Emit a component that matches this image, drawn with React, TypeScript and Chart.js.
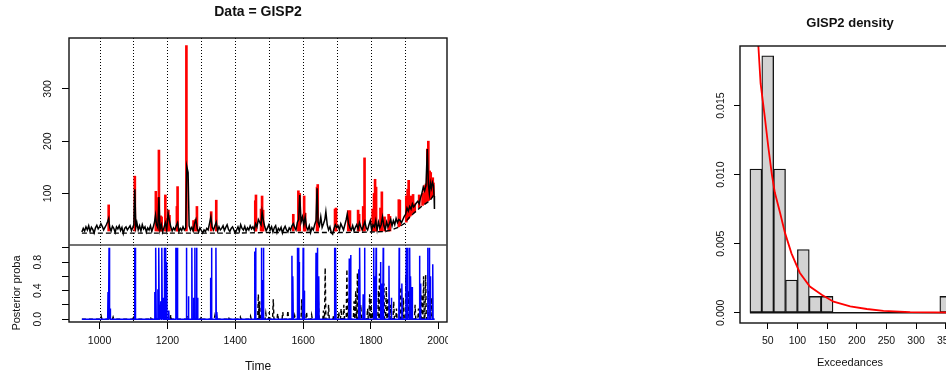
import React, { useEffect, useRef } from 'react';
import { Chart, registerables } from 'chart.js';

Chart.register(...registerables);

const FONT = '"Liberation Sans", Arial, Helvetica, sans-serif';

// ---------- Left panel: GISP2 series ----------
const gisp2Series: [number, number][] = [
  [948, 26], [952, 33], [956, 28], [960, 36], [964, 30], [968, 38], [972, 27], [976, 35], [980, 31], [984, 24],
  [988, 34], [992, 39], [996, 32], [1000, 36], [1004, 42], [1008, 37], [1012, 30], [1016, 35], [1020, 40], [1024, 46],
  [1027, 52], [1030, 35], [1034, 28], [1038, 37], [1042, 33], [1046, 25], [1050, 36], [1054, 32], [1058, 38], [1062, 29],
  [1066, 35], [1070, 23], [1074, 33], [1078, 36], [1082, 30], [1086, 34], [1090, 38], [1094, 29], [1098, 35], [1101, 40],
  [1104, 108], [1107, 35], [1110, 44], [1114, 30], [1118, 38], [1122, 28], [1126, 40], [1130, 32], [1134, 36], [1138, 26],
  [1142, 34], [1146, 30], [1150, 38], [1154, 27], [1158, 35], [1162, 45], [1165, 58], [1168, 40], [1172, 34], [1175, 93],
  [1178, 30], [1182, 40], [1186, 26], [1190, 35], [1194, 44], [1198, 30], [1202, 62], [1206, 48], [1210, 36], [1214, 28],
  [1218, 34], [1222, 30], [1226, 38], [1230, 44], [1234, 27], [1238, 33], [1242, 29], [1246, 36], [1250, 30], [1254, 34],
  [1257, 152], [1261, 140], [1264, 38], [1268, 30], [1272, 35], [1276, 28], [1280, 42], [1284, 50], [1288, 32], [1292, 26],
  [1296, 34], [1300, 29], [1304, 24], [1308, 30], [1312, 27], [1316, 33], [1320, 30], [1324, 42], [1328, 55], [1332, 35],
  [1336, 30], [1340, 38], [1344, 45], [1348, 28], [1352, 36], [1356, 30], [1360, 33], [1364, 38], [1368, 29], [1372, 35],
  [1376, 40], [1380, 31], [1384, 27], [1388, 33], [1392, 36], [1396, 30], [1400, 24], [1404, 30], [1408, 36], [1412, 28],
  [1416, 40], [1420, 33], [1424, 30], [1428, 37], [1432, 28], [1436, 34], [1440, 30], [1444, 38], [1448, 32], [1452, 36],
  [1456, 30], [1460, 42], [1464, 36], [1468, 50], [1472, 45], [1476, 40], [1479, 65], [1483, 48], [1487, 36], [1491, 28],
  [1495, 34], [1499, 40], [1503, 30], [1507, 36], [1511, 26], [1515, 34], [1519, 38], [1523, 25], [1527, 33], [1531, 29],
  [1535, 35], [1539, 24], [1543, 32], [1547, 37], [1551, 30], [1555, 26], [1559, 34], [1563, 30], [1567, 38], [1571, 42],
  [1575, 35], [1579, 30], [1583, 45], [1587, 50], [1590, 97], [1594, 45], [1598, 55], [1602, 40], [1606, 55], [1610, 35],
  [1614, 30], [1618, 38], [1622, 25], [1626, 34], [1630, 30], [1634, 40], [1638, 48], [1641, 110], [1644, 45], [1648, 38],
  [1652, 55], [1656, 35], [1660, 42], [1664, 50], [1667, 65], [1671, 40], [1675, 30], [1679, 36], [1683, 25], [1687, 22],
  [1691, 33], [1695, 40], [1699, 35], [1703, 38], [1707, 30], [1711, 42], [1715, 36], [1719, 30], [1723, 40], [1727, 50],
  [1730, 60], [1734, 42], [1738, 34], [1742, 30], [1746, 38], [1750, 28], [1754, 35], [1758, 40], [1762, 32], [1766, 44],
  [1770, 36], [1774, 30], [1778, 38], [1782, 46], [1786, 34], [1790, 30], [1794, 40], [1798, 48], [1802, 30], [1806, 40],
  [1810, 36], [1814, 48], [1818, 30], [1822, 45], [1826, 34], [1830, 40], [1834, 55], [1838, 38], [1842, 30], [1846, 45],
  [1850, 36], [1854, 42], [1858, 50], [1862, 38], [1866, 48], [1870, 40], [1874, 52], [1878, 44], [1882, 50], [1886, 48],
  [1890, 44], [1894, 50], [1898, 56], [1902, 60], [1906, 72], [1910, 66], [1914, 75], [1918, 70], [1922, 80], [1926, 74],
  [1930, 78], [1934, 82], [1938, 85], [1942, 80], [1946, 92], [1950, 100], [1954, 112], [1958, 105], [1962, 115], [1966, 185],
  [1969, 118], [1972, 100], [1975, 120], [1978, 110], [1981, 121], [1984, 115], [1986, 95], [1987, 70],
];

// exceedances drawn in red: year, lower end, peak
const spikeYears = [
  1027, 1104, 1166, 1172, 1175, 1180, 1183, 1194, 1197, 1203, 1206, 1228, 1230, 1256, 1277, 1283, 1287, 1329, 1344, 1459,
  1461, 1476, 1479, 1482, 1571, 1586, 1590, 1603, 1606, 1641, 1643, 1694, 1697, 1733, 1738, 1762, 1765, 1777, 1781, 1805,
  1809, 1812, 1815, 1828, 1832, 1840, 1852, 1856, 1882, 1885, 1904, 1908, 1911, 1915, 1918, 1924, 1929, 1942, 1952, 1958,
  1962, 1966, 1969, 1973, 1976, 1979, 1982, 1984,
];
const spikePeak = [
  78, 133, 104, 92, 183, 57, 55, 97, 52, 68, 58, 75, 113, 383, 48, 50, 75, 65, 87, 86,
  97, 70, 95, 68, 60, 105, 100, 95, 62, 112, 117, 70, 72, 67, 67, 68, 60, 75, 168, 70,
  100, 127, 112, 72, 103, 55, 60, 56, 88, 87, 95, 108, 125, 88, 95, 98, 80, 97, 100, 115,
  118, 185, 200, 143, 140, 118, 130, 120,
];
const spikeLow = [
  28, 28, 28, 28, 28, 28, 28, 28, 28, 28, 28, 28, 28, 28, 28, 28, 28, 28, 28, 28,
  28, 28, 28, 28, 28, 28, 28, 28, 28, 28, 28, 28, 28, 28, 28, 28, 28, 28, 28, 28,
  28, 28, 28, 28, 28, 28, 28, 28, 36, 38, 45, 50, 52, 56, 58, 62, 64, 72, 77, 80,
  82, 85, 86, 88, 90, 92, 94, 96,
];

const thresholdYears = [948, 1000, 1100, 1200, 1300, 1400, 1500, 1600, 1700, 1800, 1840, 1860, 1880, 1900, 1910, 1926, 1945, 1960, 1975, 1987];
const thresholdValues = [24, 24, 24, 24, 24, 24, 25, 25, 25, 26, 27, 30, 35, 43, 52, 62, 73, 80, 87, 99];

// posterior probabilities (bottom panel)
const seriesStart = 948;
const seriesEnd = 1987;
const blueYears = [
  1025, 1028, 1031, 1103, 1105, 1163, 1166, 1172, 1175, 1179, 1181, 1184, 1188, 1191, 1195, 1198, 1204, 1225, 1229, 1256,
  1262, 1272, 1277, 1281, 1286, 1289, 1327, 1330, 1343, 1346, 1457, 1460, 1477, 1480, 1483, 1567, 1570, 1583, 1587, 1589,
  1600, 1603, 1638, 1642, 1646, 1693, 1696, 1736, 1740, 1764, 1767, 1777, 1781, 1808, 1812, 1815, 1828, 1833, 1836, 1853,
  1860, 1883, 1891, 1904, 1908, 1914, 1917, 1921, 1943, 1946, 1967, 1972, 1975, 1982,
];
const blueProb = [
  0.38, 1, 0.15, 1, 1, 0.38, 1, 0.42, 1, 0.2, 0.25, 1, 0.3, 1, 1, 0.8, 0.12, 1, 1, 1,
  0.32, 1, 0.3, 1, 1, 0.3, 0.58, 1, 1, 0.1, 0.95, 1, 1, 0.55, 1, 0.89, 0.6, 1, 1, 0.8,
  1, 0.4, 0.93, 1, 0.6, 1, 1, 0.85, 0.9, 0.7, 1, 0.35, 1, 1, 0.6, 1, 0.8, 0.5, 1, 0.75,
  0.3, 1, 0.5, 1, 1, 1, 0.6, 0.45, 0.89, 0.5, 1, 1, 0.6, 0.77,
];
const dashYears = [
  1005, 1040, 1100, 1150, 1210, 1260, 1300, 1340, 1380, 1415, 1445, 1468, 1472, 1490, 1500, 1512, 1525, 1540, 1555, 1575,
  1596, 1610, 1625, 1645, 1660, 1665, 1675, 1690, 1705, 1712, 1720, 1729, 1735, 1750, 1755, 1760, 1770, 1790, 1796, 1800,
  1805, 1822, 1825, 1838, 1845, 1850, 1858, 1867, 1875, 1888, 1895, 1903, 1910, 1920, 1930, 1940, 1950, 1955, 1961, 1970,
  1978,
];
const dashProb = [
  0.04, 0.03, 0.05, 0.03, 0.06, 0.05, 0.04, 0.05, 0.03, 0.03, 0.04, 0.35, 0.25, 0.08, 0.1, 0.28, 0.08, 0.1, 0.12, 0.05,
  0.28, 0.1, 0.06, 0.25, 0.12, 0.72, 0.2, 0.06, 0.1, 0.15, 0.2, 0.7, 0.3, 0.25, 0.4, 0.65, 0.2, 0.15, 0.35, 0.3,
  0.1, 0.4, 0.64, 0.5, 0.45, 0.3, 0.2, 0.25, 0.15, 0.45, 0.3, 0.62, 0.4, 0.3, 0.2, 0.15, 0.35, 0.6, 0.62, 0.4,
  0.3,
];

const guideYears = [1000, 1100, 1200, 1300, 1400, 1500, 1600, 1700, 1800, 1900];
const timeTicks = [1000, 1200, 1400, 1600, 1800, 2000];
const valueTicks = [100, 200, 300];
const probTicks = [0, 0.2, 0.4, 0.6, 0.8, 1.0];
const probLabelled = [0, 0.4, 0.8];

// ---------- Right panel: density ----------
const binMids = [30, 50, 70, 90, 110, 130, 150, 170, 190, 210, 230, 250, 270, 290, 310, 330, 350];
const binDensity = [0.0104, 0.0186, 0.0104, 0.00236, 0.00457, 0.00118, 0.00118, 0, 0, 0, 0, 0, 0, 0, 0, 0, 0.00118];
const binRange = [20, 360];
const densX = [34, 38, 45, 51, 57, 62, 71, 79, 90, 104, 121, 141, 161, 189, 217, 245, 290, 330, 374];
const densY = [0.0195, 0.0166, 0.0142, 0.012, 0.01, 0.0087, 0.0072, 0.0058, 0.0043, 0.0029, 0.0019, 0.0013, 0.0008, 0.00046, 0.00027, 0.00014, 0.00005, 0.00002, 0.00001];
const excTicks = [50, 100, 150, 200, 250, 300, 350];
const densTicks = [0, 0.005, 0.01, 0.015];

function spikePoints(years: number[], probs: number[], half: number) {
  const pts: { x: number; y: number }[] = [{ x: seriesStart, y: 0 }];
  years.forEach((yr, i) => {
    pts.push({ x: yr - half, y: 0 }, { x: yr, y: probs[i] }, { x: yr + half, y: 0 });
  });
  pts.push({ x: seriesEnd, y: 0 });
  return pts;
}

const framePlugin = {
  id: 'frame',
  beforeDatasetsDraw(chart: any, _args: any, opts: any) {
    const { ctx, chartArea: a, scales } = chart;
    if (opts && opts.guides) {
      ctx.save();
      ctx.strokeStyle = '#000';
      ctx.lineWidth = 1;
      ctx.setLineDash([1, 2]);
      for (const g of opts.guides) {
        const x = Math.round(scales.x.getPixelForValue(g)) + 0.5;
        ctx.beginPath();
        ctx.moveTo(x, a.top);
        ctx.lineTo(x, a.bottom);
        ctx.stroke();
      }
      ctx.restore();
    }
  },
  afterDatasetsDraw(chart: any, _args: any, opts: any) {
    const { ctx, chartArea: a, scales } = chart;
    ctx.save();
    ctx.strokeStyle = '#111';
    ctx.lineWidth = 1.4;
    ctx.setLineDash([]);
    ctx.strokeRect(a.left, a.top, a.right - a.left, a.bottom - a.top);
    if (opts && opts.separator) {
      const y = scales[opts.separator].top;
      ctx.strokeStyle = '#444';
      ctx.beginPath();
      ctx.moveTo(a.left, y);
      ctx.lineTo(a.right, y);
      ctx.stroke();
    }
    if (opts && opts.sideLabel) {
      const s = opts.sideLabel;
      ctx.translate(s.x, s.y);
      ctx.rotate(-Math.PI / 2);
      ctx.fillStyle = '#111';
      ctx.font = `${s.size}px ${FONT}`;
      ctx.textAlign = 'center';
      ctx.textBaseline = 'middle';
      ctx.fillText(s.text, 0, 0);
    }
    ctx.restore();
  },
};

const tickFont = { family: FONT, size: 10.5 };

export default function App() {
  const leftRef = useRef<HTMLCanvasElement>(null);
  const rightRef = useRef<HTMLCanvasElement>(null);

  useEffect(() => {
    const left = new Chart(leftRef.current as HTMLCanvasElement, {
      type: 'line',
      data: {
        datasets: [
          {
            type: 'line',
            yAxisID: 'y',
            data: thresholdYears.map((x, i) => ({ x, y: thresholdValues[i] })),
            borderColor: '#000',
            borderWidth: 1.4,
            borderDash: [5, 3],
            pointRadius: 0,
            order: 0,
          },
          {
            type: 'line',
            yAxisID: 'y',
            data: gisp2Series.map(([x, y]) => ({ x, y })),
            borderColor: '#000',
            borderWidth: 1.5,
            pointRadius: 0,
            order: 1,
          },
          {
            type: 'bar',
            yAxisID: 'y',
            data: spikeYears.map((x, i) => ({ x, y: [spikeLow[i], spikePeak[i]] })) as any,
            backgroundColor: '#ff0000',
            borderWidth: 0,
            barThickness: 2,
            grouped: false,
            order: 2,
          } as any,
          {
            type: 'line',
            yAxisID: 'y2',
            data: spikePoints(blueYears, blueProb, 1),
            borderColor: '#0000ff',
            borderWidth: 1.5,
            pointRadius: 0,
            order: 3,
          },
          {
            type: 'line',
            yAxisID: 'y2',
            data: spikePoints(dashYears, dashProb, 2),
            borderColor: '#000',
            borderWidth: 1.4,
            borderDash: [4, 3],
            pointRadius: 0,
            order: 4,
          },
        ],
      },
      options: {
        animation: false,
        responsive: false,
        maintainAspectRatio: false,
        events: [],
        layout: { padding: { left: 0, right: 69, top: 0, bottom: 0 } },
        plugins: {
          legend: { display: false },
          tooltip: { enabled: false },
          title: {
            display: true,
            fullSize: false,
            text: 'Data = GISP2',
            color: '#111',
            font: { family: FONT, size: 14, weight: 'bold' },
            padding: { top: 4, bottom: 17.2 },
          },
          frame: {
            guides: guideYears,
            separator: 'y2',
            sideLabel: { text: 'Posterior proba', x: 17, y: 293, size: 11 },
          },
        } as any,
        scales: {
          x: {
            type: 'linear',
            min: 910,
            max: 2024,
            offset: false,
            grid: { offset: false, display: true, drawOnChartArea: false, drawTicks: true, tickLength: 7, color: '#000' },
            border: { display: false },
            ticks: { font: tickFont, color: '#111', padding: 6, maxRotation: 0, autoSkip: false, callback: (v: any) => String(v) },
            afterBuildTicks: (s: any) => { s.ticks = timeTicks.map((v) => ({ value: v })); },
            afterFit: (s: any) => { s.height = 52; },
            title: { display: true, text: 'Time', color: '#111', font: { family: FONT, size: 12 }, padding: { top: 0, bottom: 0 } },
          },
          y2: {
            type: 'linear',
            position: 'left',
            stack: 'left',
            stackWeight: 77,
            min: -0.04,
            max: 1.04,
            grid: { display: true, drawOnChartArea: false, drawTicks: true, tickLength: 7, color: '#000' },
            border: { display: false },
            ticks: {
              font: tickFont, color: '#111', padding: 16.4, minRotation: 90, maxRotation: 90, crossAlign: 'center', autoSkip: false,
              callback: (v: any) => (probLabelled.includes(v) ? Number(v).toFixed(1) : ''),
            },
            afterBuildTicks: (s: any) => { s.ticks = probTicks.map((v) => ({ value: v })); },
            afterFit: (s: any) => { s.width = 69; },
          },
          y: {
            type: 'linear',
            position: 'left',
            stack: 'left',
            stackWeight: 207,
            min: 1.2,
            max: 397.5,
            grid: { display: true, drawOnChartArea: false, drawTicks: true, tickLength: 7, color: '#000' },
            border: { display: false },
            ticks: { font: tickFont, color: '#111', padding: 5, minRotation: 90, maxRotation: 90, crossAlign: 'center', autoSkip: false, callback: (v: any) => String(v) },
            afterBuildTicks: (s: any) => { s.ticks = valueTicks.map((v) => ({ value: v })); },
            afterFit: (s: any) => { s.width = 69; },
          },
        } as any,
      },
      plugins: [framePlugin as any],
    });

    const right = new Chart(rightRef.current as HTMLCanvasElement, {
      type: 'bar',
      data: {
        datasets: [
          {
            type: 'bar',
            data: binMids.map((x, i) => ({ x, y: binDensity[i] })) as any,
            backgroundColor: '#d3d3d3',
            borderColor: '#111',
            borderWidth: 1.3,
            borderSkipped: false,
            barPercentage: 1,
            categoryPercentage: 1,
            order: 2,
          } as any,
          {
            type: 'line',
            data: binRange.map((x) => ({ x, y: 0 })),
            borderColor: '#111',
            borderWidth: 1.3,
            pointRadius: 0,
            order: 1,
          } as any,
          {
            type: 'line',
            data: densX.map((x, i) => ({ x, y: densY[i] })),
            borderColor: '#ff0000',
            borderWidth: 1.8,
            pointRadius: 0,
            order: 0,
          } as any,
        ],
      },
      options: {
        animation: false,
        responsive: false,
        maintainAspectRatio: false,
        events: [],
        layout: { padding: { left: 0, right: 40, top: 0, bottom: 0 } },
        plugins: {
          legend: { display: false },
          tooltip: { enabled: false },
          title: {
            display: true,
            fullSize: false,
            text: 'GISP2 density',
            color: '#111',
            font: { family: FONT, size: 13, weight: 'bold' },
            padding: { top: 15.5, bottom: 14.9 },
          },
          frame: {},
        } as any,
        scales: {
          x: {
            type: 'linear',
            min: 3.3,
            max: 374,
            offset: false,
            grid: { offset: false, display: true, drawOnChartArea: false, drawTicks: true, tickLength: 6, color: '#000' },
            border: { display: false },
            ticks: { font: tickFont, color: '#111', padding: 6, maxRotation: 0, autoSkip: false, callback: (v: any) => String(v) },
            afterBuildTicks: (s: any) => { s.ticks = excTicks.map((v) => ({ value: v })); },
            afterFit: (s: any) => { s.height = 51; },
            title: { display: true, text: 'Exceedances', color: '#111', font: { family: FONT, size: 11 }, padding: { top: 0, bottom: 4.4 } },
          },
          y: {
            type: 'linear',
            position: 'left',
            min: -0.000743,
            max: 0.019313,
            grid: { display: true, drawOnChartArea: false, drawTicks: true, tickLength: 6, color: '#000' },
            border: { display: false },
            ticks: { font: tickFont, color: '#111', padding: 0, minRotation: 90, maxRotation: 90, crossAlign: 'center', autoSkip: false, callback: (v: any) => Number(v).toFixed(3) },
            afterBuildTicks: (s: any) => { s.ticks = densTicks.map((v) => ({ value: v })); },
            afterFit: (s: any) => { s.width = 40; },
          },
        } as any,
      },
      plugins: [framePlugin as any],
    });

    return () => {
      left.destroy();
      right.destroy();
    };
  }, []);

  return (
    <div style={{ position: 'fixed', left: 0, top: 0, width: 946, height: 374, overflow: 'hidden', background: '#fff' }}>
      <div style={{ position: 'absolute', left: 0, top: 0, width: 448, height: 374, overflow: 'hidden' }}>
        <canvas ref={leftRef} width={516} height={374} style={{ display: 'block' }} />
      </div>
      <div style={{ position: 'absolute', left: 700, top: 0, width: 246, height: 374, overflow: 'hidden' }}>
        <canvas ref={rightRef} width={300} height={374} style={{ display: 'block' }} />
      </div>
    </div>
  );
}
